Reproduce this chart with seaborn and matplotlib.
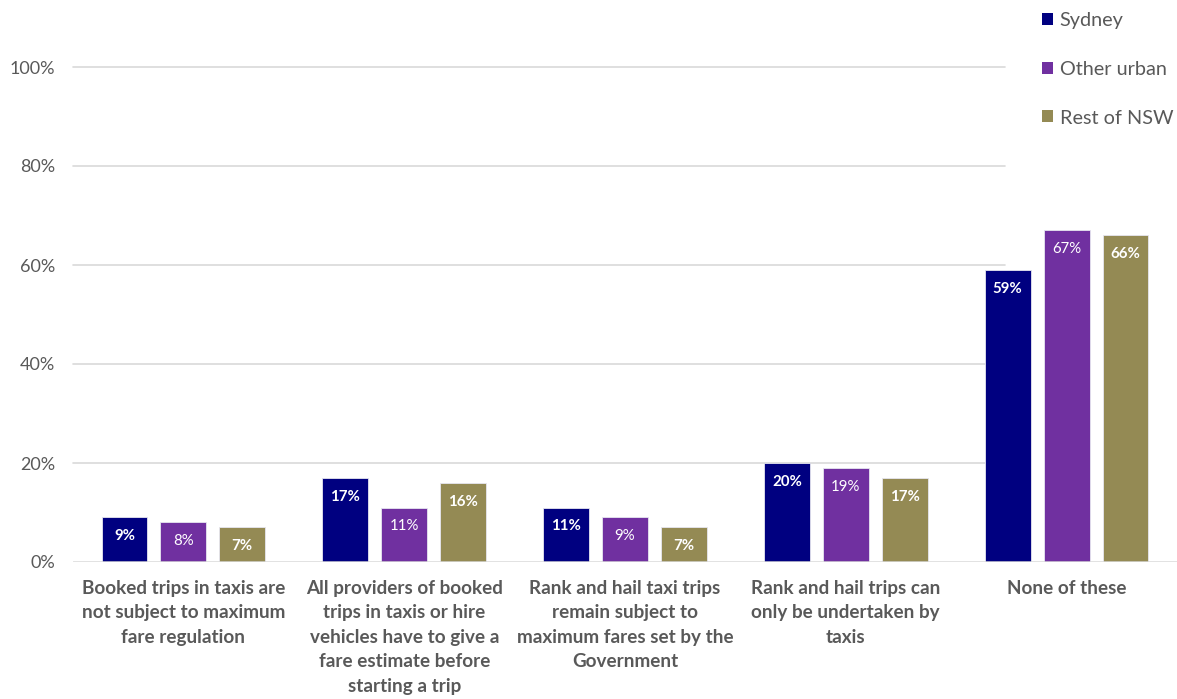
import matplotlib
matplotlib.use("Agg")
import matplotlib.pyplot as plt
import matplotlib.transforms as mtransforms
from matplotlib.patches import Patch
import seaborn as sns
import pandas as pd

categories = [
    "Booked trips in taxis are\nnot subject to maximum\nfare regulation",
    "All providers of booked\ntrips in taxis or hire\nvehicles have to give a\nfare estimate before\nstarting a trip",
    "Rank and hail taxi trips\nremain subject to\nmaximum fares set by the\nGovernment",
    "Rank and hail trips can\nonly be undertaken by\ntaxis",
    "None of these",
]
regions = ["Sydney", "Other urban", "Rest of NSW"]
sydney = [9, 17, 11, 20, 59]
other_urban = [8, 11, 9, 19, 67]
rest_of_nsw = [7, 16, 7, 17, 66]
y_ticks = [0, 20, 40, 60, 80, 100]

colors = ["#000080", "#7030A0", "#948A54"]
label_weights = ["bold", "normal", "bold"]
text_gray = "#595959"
grid_gray = "#D9D9D9"
FONT = "Lato"

rows = []
for region, values in zip(regions, [sydney, other_urban, rest_of_nsw]):
    for cat, v in zip(categories, values):
        rows.append({"category": cat, "region": region, "value": v})
df = pd.DataFrame(rows)

sns.set_theme(style="white")
plt.rcParams["font.family"] = [FONT, "DejaVu Sans"]

W, H = 1177, 699
fig = plt.figure(figsize=(W / 100, H / 100), dpi=100)
ax = fig.add_axes([73 / W, 1 - 562 / H, 1104 / W, 495 / H])

sns.barplot(data=df, x="category", y="value", hue="region", hue_order=regions,
            order=categories, palette=colors, saturation=1, width=0.8, gap=0.22,
            edgecolor="#E6E6F0", linewidth=0.6, ax=ax, legend=False)

ax.set_ylim(0, 100)
ax.set_xlim(-0.5, len(categories) - 0.5)

# horizontal gridlines stop short of the legend area
trans = mtransforms.blended_transform_factory(ax.transAxes, ax.transData)
for y in y_ticks[1:]:
    ax.plot([0, 0.844], [y, y], transform=trans, color=grid_gray, lw=1.2,
            zorder=0, clip_on=False)
ax.axhline(0, color=grid_gray, lw=1.8, zorder=3)

for s in ax.spines.values():
    s.set_visible(False)

ax.set_yticks(y_ticks)
ax.set_yticklabels([f"{t}%" for t in y_ticks], fontsize=13, color=text_gray)
ax.tick_params(axis="y", length=0, pad=13)
ax.tick_params(axis="x", length=0, pad=13)
ax.set_xticks(range(len(categories)))
ax.set_xticklabels(categories, fontsize=13.6, color=text_gray, fontweight="bold",
                   linespacing=1.53)
ax.set_xlabel("")
ax.set_ylabel("")

# value labels inside the top of each bar
for container, weight, values in zip(ax.containers, label_weights,
                                      [sydney, other_urban, rest_of_nsw]):
    for bar, v in zip(container, values):
        ax.annotate(f"{v}%", (bar.get_x() + bar.get_width() / 2, bar.get_height()),
                    xytext=(0, -13.5), textcoords="offset points",
                    ha="center", va="center", color="white", fontsize=10.8,
                    fontweight=weight, zorder=5)

handles = [Patch(facecolor=c, edgecolor="none") for c in colors]
fig.legend(handles, regions, loc="upper left",
           bbox_to_anchor=(1034 / W, 1 - 4 / H), frameon=False,
           fontsize=14.3, handlelength=0.55, handleheight=0.55, handletextpad=0.35,
           labelspacing=1.6, labelcolor=text_gray, borderaxespad=0)

fig.savefig("out.png", dpi=100)
